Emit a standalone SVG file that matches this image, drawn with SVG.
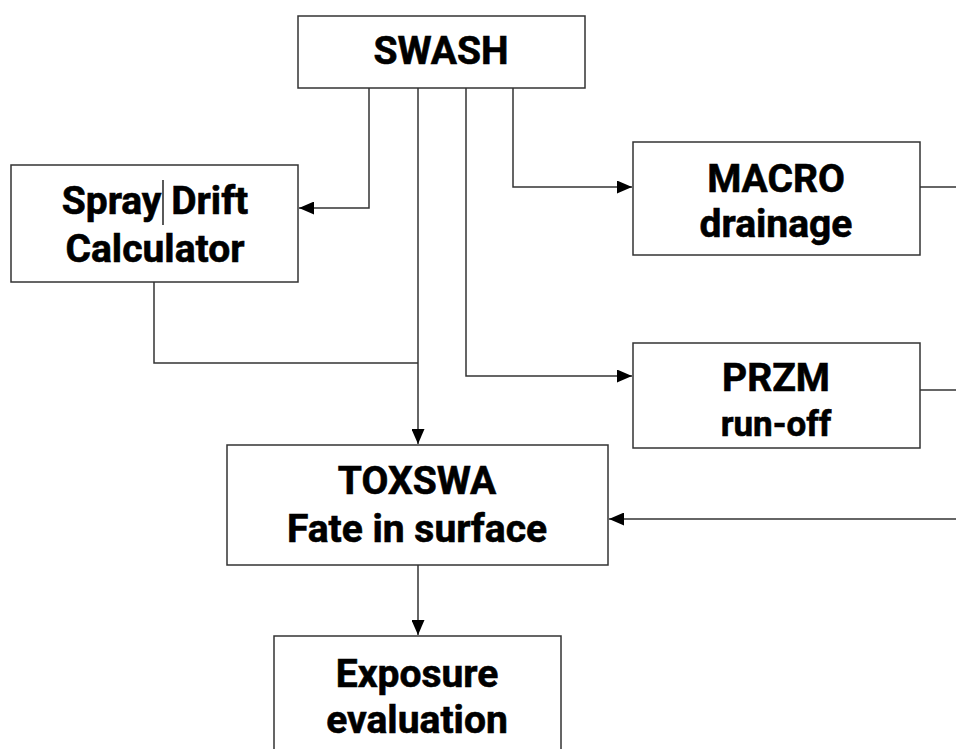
<svg xmlns="http://www.w3.org/2000/svg" width="956" height="749" viewBox="0 0 956 749">
<style>
.box{fill:#fff;stroke:#333;stroke-width:1.5}
.t{font-family:Roboto,"Liberation Sans",sans-serif;font-weight:bold;font-size:39px;fill:#000;text-anchor:middle;stroke:#000;stroke-width:0.6}
.c{fill:none;stroke:#333;stroke-width:1.5}
</style>
<defs>
<marker id="ah" viewBox="0 0 15 13" refX="15" refY="6.5" markerWidth="15" markerHeight="13" markerUnits="userSpaceOnUse" orient="auto">
<path d="M0,0 L15,6.5 L0,13 Z" fill="#000"/>
</marker>
</defs>
<rect width="956" height="749" fill="#fff"/>
<g id="connectors">
<path class="c" d="M369,88 V208 H299" marker-end="url(#ah)"/>
<path class="c" d="M418,88 V444" marker-end="url(#ah)"/>
<path class="c" d="M154,282 V363 H418"/>
<path class="c" d="M466,88 V376 H632" marker-end="url(#ah)"/>
<path class="c" d="M513,88 V187 H632" marker-end="url(#ah)"/>
<path class="c" d="M920,187 H956"/>
<path class="c" d="M920,390 H956"/>
<path class="c" d="M956,519 H609" marker-end="url(#ah)"/>
<path class="c" d="M418,565 V635" marker-end="url(#ah)"/>
</g>
<g id="swash">
<rect class="box" x="298" y="16" width="287" height="72"/>
<text class="t" x="441" y="64">SWASH</text>
</g>
<g id="spraydrift">
<rect class="box" x="11" y="165" width="287" height="117"/>
<text class="t" x="155" y="214">Spray Drift</text>
<line x1="163" y1="180" x2="163" y2="225" stroke="#000" stroke-width="1.3"/>
<text class="t" x="155" y="262">Calculator</text>
</g>
<g id="macro">
<rect class="box" x="633" y="142" width="287" height="113"/>
<text class="t" x="776" y="192">MACRO</text>
<text class="t" x="776" y="237">drainage</text>
</g>
<g id="przm">
<rect class="box" x="633" y="343" width="287" height="105"/>
<text class="t" x="776" y="391">PRZM</text>
<text class="t" x="776" y="436" style="font-size:35px">run-off</text>
</g>
<g id="toxswa">
<rect class="box" x="227" y="445" width="381" height="120"/>
<text class="t" x="417" y="494">TOXSWA</text>
<text class="t" x="417" y="542">Fate in surface</text>
</g>
<g id="exposure">
<rect class="box" x="274" y="636" width="287" height="130"/>
<text class="t" x="417" y="687">Exposure</text>
<text class="t" x="417" y="733">evaluation</text>
</g>
</svg>
